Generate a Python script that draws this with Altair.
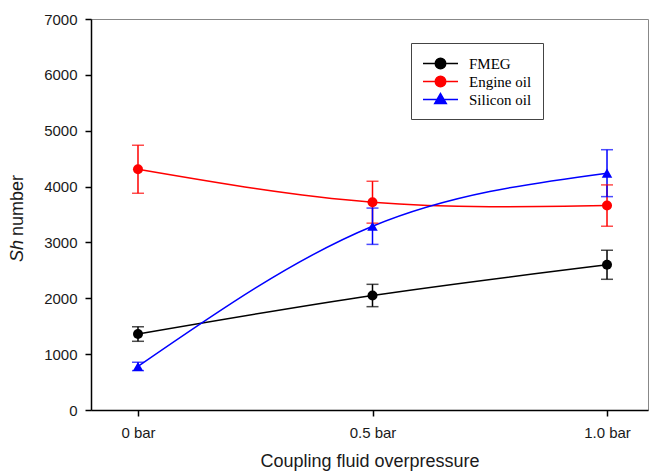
import altair as alt
import pandas as pd

# ---- data ----
pressure = [0.0, 0.5, 1.0]
tick_labels = ["0 bar", "0.5 bar", "1.0 bar"]
series = ["FMEG", "Engine oil", "Silicon oil"]
legend_labels = ["FMEG", " Engine oil", "Silicon oil"]
colors = ["#000000", "#ff0000", "#0000ff"]

fmeg = [1360, 2050, 2600]
fmeg_err = [130, 200, 260]
engine = [4310, 3720, 3660]
engine_err = [430, 375, 370]
silicon = [780, 3290, 4240]
silicon_err = [75, 325, 420]

rows = []
for name, lab, vals, errs in zip(series, legend_labels, [fmeg, engine, silicon], [fmeg_err, engine_err, silicon_err]):
    for p, v, e in zip(pressure, vals, errs):
        rows.append({"series": name, "lab": lab, "p": p, "sh": v, "lo": v - e, "hi": v + e})
df = pd.DataFrame(rows)

label_expr = " : ".join(
    [f"datum.value == {p} ? '{t}'" for p, t in zip(pressure[:-1], tick_labels[:-1])]
    + [f"'{tick_labels[-1]}'"]
)

FONT = "Liberation Sans"
TXT = "#1a1a1a"

x = alt.X(
    "p:Q",
    scale=alt.Scale(domain=[-0.1002, 1.0874], nice=False, zero=False),
    axis=alt.Axis(
        values=pressure, labelExpr=label_expr, title="Coupling fluid overpressure",
        titleY=56, titleBaseline="alphabetic", labelPadding=9,
    ),
)
y = alt.Y(
    "sh:Q",
    scale=alt.Scale(domain=[0, 7000], nice=False),
    axis=alt.Axis(values=list(range(0, 7001, 1000)), format="d", title=None, labelPadding=8),
)

# legend symbols: a line with the marker on it
circ = "M-2,0L2,0M0.6,0A0.6,0.6,0,1,1,-0.6,0A0.6,0.6,0,1,1,0.6,0Z"
tri = "M-2,0L2,0M0,-0.68L0.66,0.46L-0.66,0.46Z"

legend = alt.Legend(
    title=None, orient="none", legendX=320, legendY=24, padding=11,
    symbolOffset=9, labelOffset=19, rowPadding=0, symbolSize=306,
    symbolStrokeWidth=1.5, symbolOpacity=1,
    strokeColor="#444444", fillColor="white",
    labelFont="Liberation Serif", labelFontSize=15, labelColor="black",
)
cscale = alt.Scale(domain=series, range=colors)
color = alt.Color("series:N", scale=cscale, legend=None)
lscale = alt.Scale(domain=legend_labels, range=colors)

base = alt.Chart(df)
lines = base.mark_line(interpolate="natural", strokeWidth=1.5).encode(x=x, y=y, color=color)
bars = base.mark_rule(strokeWidth=1.5).encode(x=x, y="lo:Q", y2="hi:Q", color=color)
cap_lo = base.mark_tick(orient="horizontal", size=12, thickness=1.5).encode(x=x, y="lo:Q", color=color)
cap_hi = base.mark_tick(orient="horizontal", size=12, thickness=1.5).encode(x=x, y="hi:Q", color=color)
dots = base.transform_filter(alt.datum.series != series[2]).mark_point(
    shape="circle", filled=True, opacity=1, size=100, strokeWidth=1
).encode(x=x, y=y, color=color)
tris = base.transform_filter(alt.datum.series == series[2]).mark_point(
    shape="triangle-up", filled=True, opacity=1, size=110, strokeWidth=1
).encode(x=x, y=y, color=color)
# layer with no drawn marks that only provides the legend
legend_layer = base.transform_filter("false").mark_point(filled=True, size=306, strokeWidth=1.5).encode(
    x=x, y=y,
    fill=alt.Fill("lab:N", scale=lscale, legend=legend),
    stroke=alt.Stroke("lab:N", scale=lscale, legend=legend),
    shape=alt.Shape("lab:N", scale=alt.Scale(domain=legend_labels, range=[circ, circ, tri]), legend=legend),
)

ytitle_a = alt.Chart(pd.DataFrame({"t": ["Sh"]})).mark_text(
    angle=270, align="right", baseline="middle", font=FONT, fontSize=18,
    fontStyle="italic", color=TXT,
).encode(text="t:N", x=alt.value(-73), y=alt.value(221))
ytitle_b = alt.Chart(pd.DataFrame({"t": ["number"]})).mark_text(
    angle=270, align="left", baseline="middle", font=FONT, fontSize=18, color=TXT,
).encode(text="t:N", x=alt.value(-73), y=alt.value(217))

chart = alt.layer(lines, bars, cap_lo, cap_hi, dots, tris, legend_layer, ytitle_a, ytitle_b).properties(
    width=557, height=391,
    autosize=alt.AutoSizeParams(type="none"),
    padding={"left": 91, "top": 19, "right": 5, "bottom": 63},
).configure_view(
    stroke="#888888", strokeWidth=1
).configure_axis(
    grid=False, domainColor="black", domainWidth=1.5, tickColor="black", tickWidth=1.5,
    tickSize=6, labelFont=FONT, labelFontSize=15, labelColor=TXT,
    titleFont=FONT, titleFontSize=18, titleFontWeight="normal", titleColor=TXT,
)

chart.save("out.html", embed_options={"renderer": "svg", "actions": False})
